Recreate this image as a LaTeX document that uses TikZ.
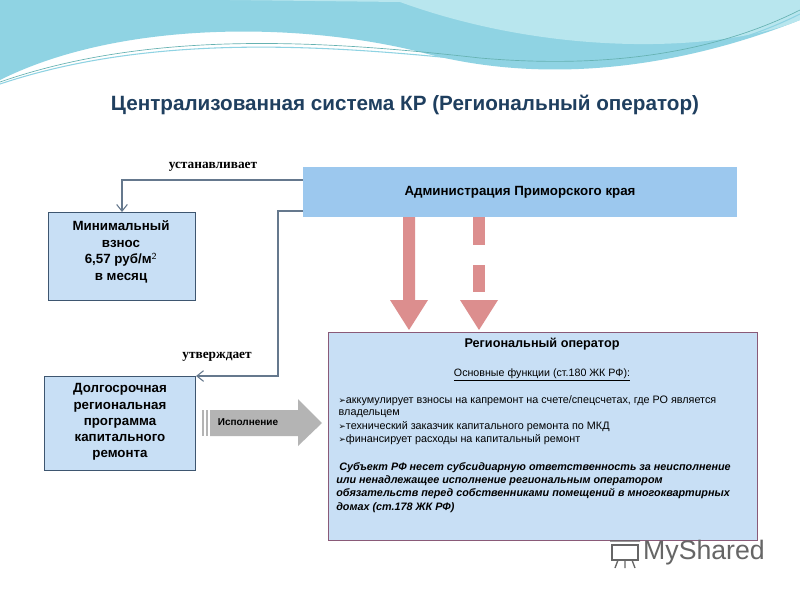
\documentclass[tikz,border=0pt]{standalone}
\usepackage{fontspec}
\setmainfont{Liberation Sans}
\newfontfamily\serifru{Liberation Serif}
\newfontfamily\symfont{DejaVu Sans}
\usetikzlibrary{arrows.meta}
\definecolor{titleblue}{HTML}{1F3F5F}
\definecolor{adminfill}{HTML}{9CC8EE}
\definecolor{boxfill}{HTML}{C8DFF5}
\definecolor{boxline}{HTML}{3E5670}
\definecolor{roline}{HTML}{8A5A78}
\definecolor{pinkarr}{HTML}{DC8E8E}
\definecolor{grayarr}{HTML}{B4B4B4}
\definecolor{waveA}{HTML}{8FD3E3}
\definecolor{waveB}{HTML}{B8E6EE}
\newcommand{\bul}{{\symfont\fontsize{6.5}{9}\selectfont ➢}}
\tikzset{
  lbox/.style={draw=boxline, line width=0.8pt, fill=boxfill, anchor=north west, inner sep=0pt},
  conn/.style={draw=boxline!80, line width=0.8pt, -{Straight Barb[length=5pt,width=8pt]}},
  lbl/.style={font=\serifru\bfseries\fontsize{10}{12}\selectfont},
  btxt/.style={font=\bfseries\fontsize{10}{12}\selectfont, align=center},
  small/.style={font=\fontsize{8.1}{9}\selectfont, align=left, anchor=west}
}
\begin{document}
\begin{tikzpicture}[x=0.75pt,y=-0.75pt]
\useasboundingbox (0,0) rectangle (800,600);
\fill[white] (0,0) rectangle (800,600);
% top waves
\fill[waveA] (0,0) -- (800,0) -- (800,20) .. controls (700,60) and (560,90) .. (420,52) .. controls (300,22) and (120,20) .. (0,80) -- cycle;
\fill[waveB] (230,0) -- (800,0) -- (800,20) .. controls (730,50) and (560,60) .. (400,2) -- cycle;
\draw[teal!60, line width=0.5pt] (0,82) .. controls (150,30) and (320,40) .. (480,58) .. controls (640,72) and (740,40) .. (800,10);
\draw[waveA, line width=0.8pt] (0,84) .. controls (150,34) and (320,44) .. (480,61) .. controls (640,75) and (740,44) .. (800,14);

\node[font=\bfseries\fontsize{15.5}{18}\selectfont, text=titleblue] (title) at (405,105) {Централизованная система КР (Региональный оператор)};

% admin
\node[fill=adminfill, minimum width=325.5pt, minimum height=37.5pt, anchor=north west, inner sep=0pt] (admin) at (303,167) {};
\node[btxt] at (520,192) {Администрация Приморского края};

% min box
\node[lbox, minimum width=110.25pt, minimum height=66pt] (minb) at (48,212) {};
\node[btxt, anchor=north, font=\bfseries\fontsize{10}{12.5}\selectfont] at (121,216) {Минимальный\\взнос\\6,57 руб/м$^{\mathsf{2}}$\\в месяц};

% long box
\node[lbox, minimum width=113.25pt, minimum height=70.5pt] (longb) at (44,376) {};
\node[btxt, anchor=north, font=\bfseries\fontsize{10}{12.2}\selectfont] at (120,379) {Долгосрочная\\региональная\\программа\\капитального\\ремонта};

% RO box
\node[draw=roline, line width=0.6pt, fill=boxfill, minimum width=321.75pt, minimum height=156pt, anchor=north west, inner sep=0pt] (ro) at (328,332) {};
\node[btxt, font=\bfseries\fontsize{9.5}{11}\selectfont] at (542,344) {Региональный оператор};
\node[font=\fontsize{8}{9}\selectfont] at (542,375) {\underline{Основные функции (ст.180 ЖК РФ):}};
\node[small] at (334,401) {\bul аккумулирует взносы на капремонт на счете/спецсчетах, где РО является};
\node[small] at (334,414) {владельцем};
\node[small] at (334,427) {\bul технический заказчик капитального ремонта по МКД};
\node[small] at (334,440) {\bul финансирует расходы на капитальный  ремонт};
\node[font=\bfseries\itshape\fontsize{8.1}{10}\selectfont, align=left, anchor=north west, inner sep=0pt] at (336,462) {\ Субъект  РФ несет субсидиарную  ответственность за неисполнение\\или ненадлежащее  исполнение региональным  оператором\\обязательств перед собственниками помещений в многоквартирных\\домах (ст.178 ЖК РФ)};

% connectors
\draw[conn] (admin.west |- 0,180) -| (minb.north -| 122,0);
\node[lbl] (l1) at (213,167) {устанавливает};
\draw[conn] (admin.west |- 0,211) -- (278,211) |- (longb.north east);
\node[lbl] (l2) at (217,357) {утверждает};

% pink arrows
\fill[pinkarr] (403,217) -- (415,217) -- (415,300) -- (428,300) -- (409,330) -- (390,300) -- (403,300) -- cycle;
\fill[pinkarr] (473,217) rectangle (485,245);
\fill[pinkarr] (473,265) rectangle (485,292);
\fill[pinkarr] (460,300) -- (498,300) -- (479,330) -- cycle;

% gray arrow
\fill[grayarr] (202,410) rectangle (204,436);
\fill[grayarr] (206,410) rectangle (208,436);
\fill[grayarr] (210,410) -- (298,410) -- (298,399) -- (322,423) -- (298,446) -- (298,436) -- (210,436) -- cycle;
\node[font=\bfseries\fontsize{7.5}{9}\selectfont] (exec) at (248,422) {Исполнение};

% watermark
\node[font=\fontsize{20}{24}\selectfont, text=black!60] (wm) at (704,553) {MyShared};
\draw[black!60, line width=1.2pt] (612,545) rectangle (638,560);
\draw[black!60, line width=1pt] (610,541) -- (640,541) (618,560) -- (615,568) (625,560) -- (625,568) (632,560) -- (635,568);
\end{tikzpicture}
\end{document}
